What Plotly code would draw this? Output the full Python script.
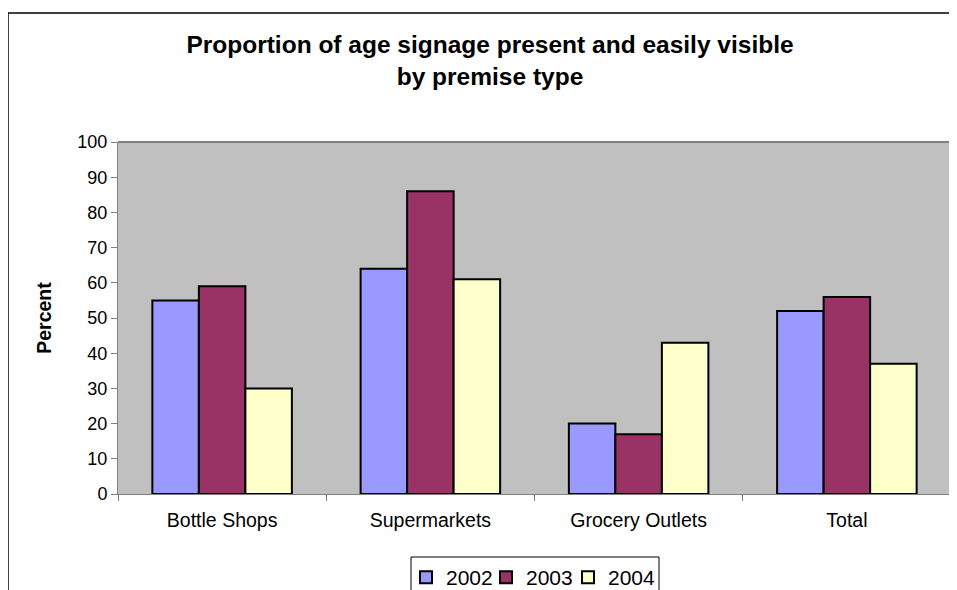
import plotly.graph_objects as go

categories = ["Bottle Shops", "Supermarkets", "Grocery Outlets", "Total"]
years = ["2002", "2003", "2004"]
v2002 = [55, 64, 20, 52]
v2003 = [59, 86, 17, 56]
v2004 = [30, 61, 43, 37]
colors = ["#9999FF", "#993366", "#FFFFCC"]
yticks = [0, 10, 20, 30, 40, 50, 60, 70, 80, 90, 100]

W, H = 957, 590
O = 8  # page offset of the figure in the browser
L, R, T, B = 118 - O, W - (951 - O), 142 - O, H - (494 - O)
pw, ph = W - L - R, H - T - B

def px(sx):
    return (sx - O - L) / pw

def py(sy):
    return (H - B - (sy - O)) / ph

legend_ids = ["legend", "legend2", "legend3"]
legend_left = [406, 486, 568]

fig = go.Figure()
for name, vals, c, lid in zip(years, [v2002, v2003, v2004], colors, legend_ids):
    fig.add_trace(go.Bar(x=categories, y=vals, name=name, legend=lid,
                         marker=dict(color=c, line=dict(color="black", width=2))))

legend_common = dict(orientation="h", xanchor="left", xref="paper",
                     y=py(557), yanchor="top", yref="paper",
                     borderwidth=0, bgcolor="rgba(0,0,0,0)",
                     font=dict(size=21), itemwidth=30)

layout_legends = {lid: dict(x=px(lx), **legend_common)
                  for lid, lx in zip(legend_ids, legend_left)}

fig.update_layout(
    width=W, height=H, autosize=False,
    margin=dict(l=L, r=R, t=T, b=B, autoexpand=False),
    paper_bgcolor="white",
    plot_bgcolor="#C0C0C0",
    barmode="group",
    bargap=0.33,
    bargroupgap=0,
    font=dict(family="Liberation Sans, Arial, sans-serif", color="black", size=18),
    title=dict(text="<b>Proportion of age signage present and easily visible<br>by premise type</b>",
               x=(490 - O) / W, xref="container", xanchor="center",
               y=1 - (53 - O) / H, yref="container", yanchor="middle",
               font=dict(size=24.5)),
    showlegend=True,
    xaxis=dict(tickson="boundaries", ticks="outside", ticklen=6, tickcolor="#808080",
               showline=True, linecolor="#808080", linewidth=1, mirror=False,
               showgrid=False, tickfont=dict(size=19.5), tickangle=0,
               ticklabelstandoff=9),
    yaxis=dict(range=[0, 100], tickvals=yticks, ticks="outside", ticklen=6,
               tickcolor="#808080", showline=True, linecolor="#808080", linewidth=1,
               showgrid=False, zeroline=False, tickfont=dict(size=18),
               title=dict(text="<b>Percent</b>", font=dict(size=19.5), standoff=20)),
    shapes=[
        dict(type="line", xref="paper", yref="paper", x0=0, x1=1, y0=1, y1=1,
             line=dict(color="#808080", width=2)),
        dict(type="line", xref="paper", yref="paper", x0=1, x1=1, y0=0, y1=1,
             line=dict(color="#808080", width=2)),
        dict(type="line", xref="paper", yref="paper", x0=px(8), x1=px(966), y0=py(13), y1=py(13),
             line=dict(color="black", width=1.5)),
        dict(type="line", xref="paper", yref="paper", x0=px(8), x1=px(8), y0=py(13), y1=py(600),
             line=dict(color="black", width=1.5)),
        dict(type="rect", xref="paper", yref="paper", x0=px(411), x1=px(659), y0=py(557), y1=py(605),
             line=dict(color="black", width=1), fillcolor="rgba(0,0,0,0)", layer="above"),
    ],
    **layout_legends,
)

fig.write_html("out.html")
